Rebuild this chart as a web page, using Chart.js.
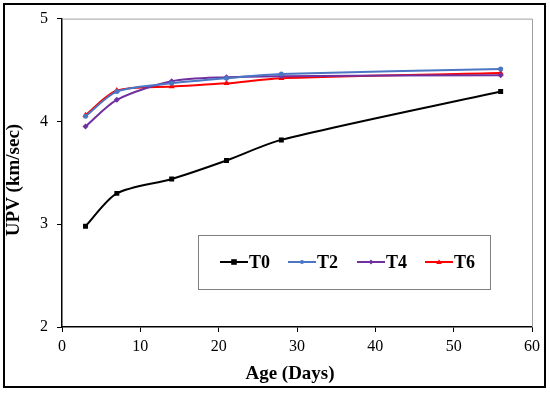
<!DOCTYPE html>
<html><head><meta charset="utf-8">
<script src="https://cdn.jsdelivr.net/npm/chart.js@4"></script>
<style>html,body{margin:0;padding:0;background:#fff}#w{width:550px;height:393px}</style>
</head><body><div id="w"><canvas id="c" width="550" height="393"></canvas></div>
<script>
const ages = [3, 7, 14, 21, 28, 56];
const T0 = [2.98, 3.30, 3.44, 3.62, 3.82, 4.29];
const T2 = [4.05, 4.29, 4.37, 4.42, 4.46, 4.51];
const T4 = [3.95, 4.21, 4.39, 4.43, 4.44, 4.45];
const T6 = [4.06, 4.30, 4.34, 4.37, 4.42, 4.47];
const seriesNames = ['T0', 'T2', 'T4', 'T6'];
const xTicks = [0, 10, 20, 30, 40, 50, 60];
const yTicks = [2, 3, 4, 5];
const xTitle = 'Age (Days)';
const yTitle = 'UPV (km/sec)';

const pts = arr => arr.map((v, i) => ({x: ages[i], y: v}));
const FONT = "'Liberation Serif', 'Times New Roman', serif";

const frame = {
  id: 'frame',
  beforeDraw(chart) {
    const c = chart.ctx;
    c.save();
    c.fillStyle = '#fff';
    c.fillRect(0, 0, chart.width, chart.height);
    c.strokeStyle = '#000';
    c.lineWidth = 2;
    c.strokeRect(4, 4, 541, 383);
    c.restore();
  },
  beforeDatasetsDraw(chart) {
    const a = chart.chartArea, c = chart.ctx;
    c.save();
    c.strokeStyle = '#a0a0a0';
    c.lineWidth = 1;
    c.beginPath();
    c.moveTo(a.left, a.top + 0.5);
    c.lineTo(a.right + 0.5, a.top + 0.5);
    c.lineTo(a.right + 0.5, a.bottom);
    c.stroke();
    c.fillStyle = '#000';
    c.font = 'bold 19px ' + FONT;
    c.textAlign = 'center';
    c.textBaseline = 'middle';
    c.fillText(xTitle, 290, 374);
    c.translate(14, 180);
    c.rotate(-Math.PI / 2);
    c.fillText(yTitle, 0, 0);
    c.restore();
  },
  afterDatasetsDraw(chart) {
    const c = chart.ctx;
    c.save();
    const bx = 198, by = 235, bw = 292, bh = 54;
    c.fillStyle = '#fff';
    c.fillRect(bx, by, bw, bh);
    c.strokeStyle = '#808080';
    c.lineWidth = 1;
    c.strokeRect(bx + 0.5, by + 0.5, bw, bh);
    const starts = [220, 288, 357, 425];
    const cy = 262;
    c.font = 'bold 18px ' + FONT;
    c.textBaseline = 'middle';
    chart.data.datasets.forEach((ds, i) => {
      const x0 = starts[i], x1 = x0 + 28;
      c.strokeStyle = ds.borderColor;
      c.lineWidth = 2;
      c.beginPath(); c.moveTo(x0, cy); c.lineTo(x1, cy); c.stroke();
      const mx = (x0 + x1) / 2;
      c.fillStyle = ds.pointBackgroundColor;
      const r = ds.pointRadius * 0.8;
      c.beginPath();
      if (ds.pointStyle === 'rect') c.rect(mx - r, cy - r, 2 * r, 2 * r);
      else if (ds.pointStyle === 'rectRot') { c.moveTo(mx, cy - r); c.lineTo(mx + r, cy); c.lineTo(mx, cy + r); c.lineTo(mx - r, cy); c.closePath(); }
      else if (ds.pointStyle === 'triangle') { c.moveTo(mx, cy - r); c.lineTo(mx + r, cy + r * 0.7); c.lineTo(mx - r, cy + r * 0.7); c.closePath(); }
      else c.arc(mx, cy, r, 0, Math.PI * 2);
      c.fill();
      c.fillStyle = '#000';
      c.fillText(ds.label, x1 + 1, cy + 1);
    });
    c.restore();
  }
};

const mk = (label, data, color, style, r) => ({
  label, data: pts(data), borderColor: color, backgroundColor: color,
  pointBackgroundColor: color, pointBorderColor: color, pointStyle: style,
  pointRadius: r, pointBorderWidth: 0, borderWidth: 2,
  tension: 0.28, fill: false
});

new Chart(document.getElementById('c'), {
  type: 'line',
  data: {
    datasets: [
      mk(seriesNames[0], T0, '#000000', 'rect', 3.5),
      mk(seriesNames[1], T2, '#4a76c4', 'circle', 2.5),
      mk(seriesNames[2], T4, '#7030a0', 'rectRot', 3),
      mk(seriesNames[3], T6, '#ff0000', 'triangle', 3.5)
    ]
  },
  options: {
    responsive: false, animation: false,
    layout: {padding: {left: 8, right: 18, top: 17, bottom: 12}},
    plugins: {legend: {display: false}, tooltip: {enabled: false}},
    scales: {
      x: {
        type: 'linear', min: 0, max: 60,
        afterBuildTicks: s => { s.ticks = xTicks.map(v => ({value: v})); },
        afterFit: s => { s.height = 54; },
        grid: {drawOnChartArea: false, drawTicks: true, tickLength: 5, color: '#000'},
        border: {color: '#000', width: 1.5},
        ticks: {color: '#000', font: {family: FONT, size: 16}, padding: 5, maxRotation: 0},
        title: {display: false}
      },
      y: {
        type: 'linear', min: 2, max: 5,
        afterBuildTicks: s => { s.ticks = yTicks.map(v => ({value: v})); },
        afterFit: s => { s.width = 54; },
        grid: {drawOnChartArea: false, drawTicks: true, tickLength: 5, color: '#000'},
        border: {color: '#000', width: 1.5},
        ticks: {color: '#000', font: {family: FONT, size: 16}, padding: 9},
        title: {display: false}
      }
    }
  },
  plugins: [frame]
});
</script></body></html>
